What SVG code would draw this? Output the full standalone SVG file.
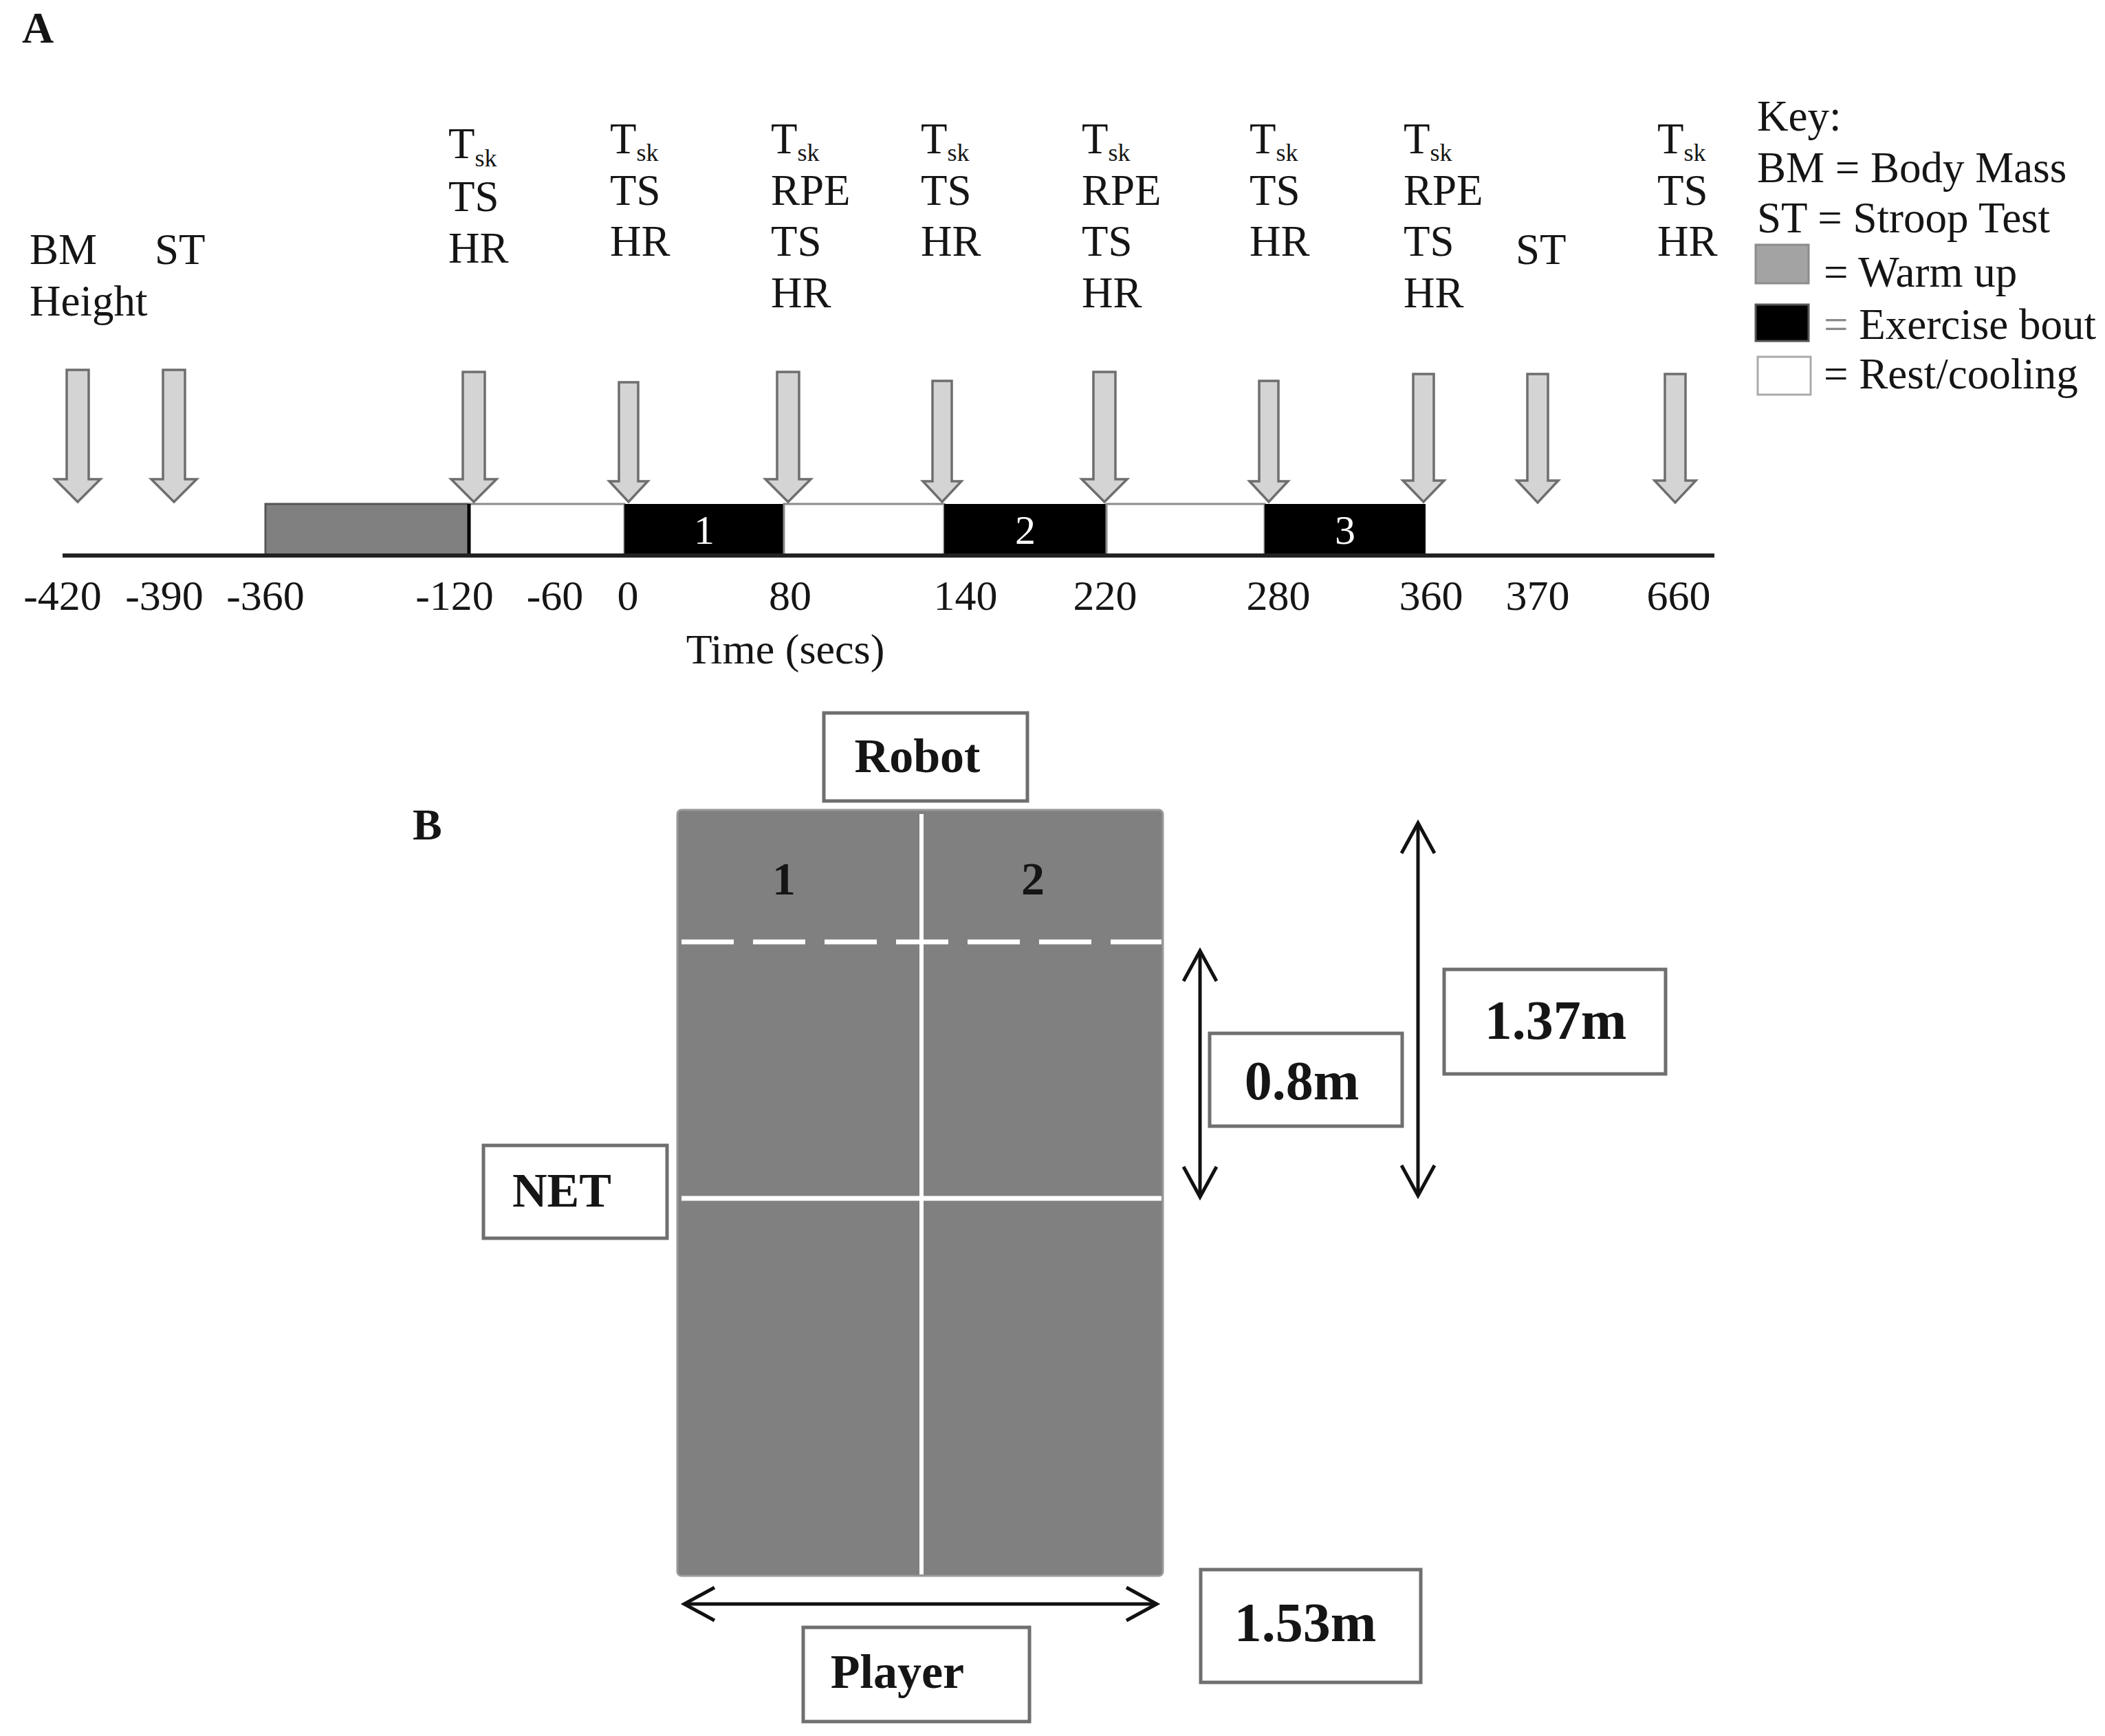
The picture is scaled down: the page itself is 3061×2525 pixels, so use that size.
<svg xmlns="http://www.w3.org/2000/svg" width="3061" height="2525" viewBox="0 0 3061 2525">
<style>
text{font-family:"Liberation Serif","Times New Roman",serif;fill:#151515}
.t{font-size:63px}
.ax{font-size:62px;text-anchor:middle}
.sub{font-size:36px}
.bold{font-weight:bold}
.hd{font-size:64px;font-weight:bold}
.lb{font-size:70px;font-weight:bold;text-anchor:middle}
.dim{font-size:80px;font-weight:bold;text-anchor:middle}
.arr{fill:#d4d4d4;stroke:#6e6e6e;stroke-width:3.5;stroke-linejoin:miter}
.box{fill:#fff;stroke:#6f6f6f;stroke-width:5}
.dl{stroke:#111;stroke-width:5;fill:none;marker-start:url(#v);marker-end:url(#v)}
.wl{stroke:#fff;stroke-width:7;fill:none}
</style>
<defs>
<marker id="v" viewBox="-50 -30 60 60" refX="0" refY="0" markerWidth="60" markerHeight="60" markerUnits="userSpaceOnUse" orient="auto-start-reverse">
<path d="M-44,-24 L0,0 L-44,24" fill="none" stroke="#111" stroke-width="5"/>
</marker>
</defs>
<rect width="3061" height="2525" fill="#fff"/>

<!-- Panel A -->
<g id="panelA">
<text x="32" y="62" class="hd">A</text>

<g id="timeline-bar">
<rect x="386" y="733" width="296" height="75" fill="#808080" stroke="#555" stroke-width="3"/>
<rect x="682" y="733" width="226" height="75" fill="#fff" stroke="#8a8a8a" stroke-width="3"/>
<rect x="908" y="733" width="232" height="75" fill="#000"/>
<rect x="1140" y="733" width="233" height="75" fill="#fff" stroke="#8a8a8a" stroke-width="3"/>
<rect x="1373" y="733" width="236" height="75" fill="#000"/>
<rect x="1609" y="733" width="230" height="75" fill="#fff" stroke="#8a8a8a" stroke-width="3"/>
<rect x="1839" y="733" width="234" height="75" fill="#000"/>
<line x1="682" y1="733" x2="682" y2="808" stroke="#000" stroke-width="5"/>
<line x1="91" y1="808" x2="2493" y2="808" stroke="#222" stroke-width="6"/>
<text x="1024" y="791" style="font-size:60px;fill:#fff;text-anchor:middle">1</text>
<text x="1491" y="791" style="font-size:60px;fill:#fff;text-anchor:middle">2</text>
<text x="1956" y="791" style="font-size:60px;fill:#fff;text-anchor:middle">3</text>
</g>

<g id="arrows">
<path class="arr" d="M97,538 H129 V697 H146 L113,730 L80,697 H97 Z"/>
<path class="arr" d="M237,538 H269 V697 H286 L253,730 L220,697 H237 Z"/>
<path class="arr" d="M673,541 H705 V697 H722 L689,730 L656,697 H673 Z"/>
<path class="arr" d="M900,556 H928 V700 H942 L914,730 L886,700 H900 Z"/>
<path class="arr" d="M1130,541 H1162 V697 H1179 L1146,730 L1113,697 H1130 Z"/>
<path class="arr" d="M1356,554 H1384 V700 H1398 L1370,730 L1342,700 H1356 Z"/>
<path class="arr" d="M1590,541 H1622 V697 H1639 L1606,730 L1573,697 H1590 Z"/>
<path class="arr" d="M1831,554 H1859 V700 H1873 L1845,730 L1817,700 H1831 Z"/>
<path class="arr" d="M2055,544 H2085 V699 H2100 L2070,730 L2040,699 H2055 Z"/>
<path class="arr" d="M2221,544 H2251 V699 H2266 L2236,731 L2206,699 H2221 Z"/>
<path class="arr" d="M2421,544 H2451 V699 H2466 L2436,731 L2406,699 H2421 Z"/>
</g>

<g id="labels-top">
<text x="43" y="384" class="t">BM</text>
<text x="43" y="459" class="t">Height</text>
<text x="225" y="384" class="t">ST</text>

<text x="652" y="230" class="t">T<tspan class="sub" dy="12">sk</tspan></text>
<text x="652" y="307" class="t">TS</text>
<text x="652" y="382" class="t">HR</text>

<text x="887" y="223" class="t">T<tspan class="sub" dy="11">sk</tspan></text>
<text x="887" y="298" class="t">TS</text>
<text x="887" y="372" class="t">HR</text>

<text x="1121" y="223" class="t">T<tspan class="sub" dy="11">sk</tspan></text>
<text x="1121" y="298" class="t">RPE</text>
<text x="1121" y="372" class="t">TS</text>
<text x="1121" y="447" class="t">HR</text>

<text x="1339" y="223" class="t">T<tspan class="sub" dy="11">sk</tspan></text>
<text x="1339" y="298" class="t">TS</text>
<text x="1339" y="372" class="t">HR</text>

<text x="1573" y="223" class="t">T<tspan class="sub" dy="11">sk</tspan></text>
<text x="1573" y="298" class="t">RPE</text>
<text x="1573" y="372" class="t">TS</text>
<text x="1573" y="447" class="t">HR</text>

<text x="1817" y="223" class="t">T<tspan class="sub" dy="11">sk</tspan></text>
<text x="1817" y="298" class="t">TS</text>
<text x="1817" y="372" class="t">HR</text>

<text x="2041" y="223" class="t">T<tspan class="sub" dy="11">sk</tspan></text>
<text x="2041" y="298" class="t">RPE</text>
<text x="2041" y="372" class="t">TS</text>
<text x="2041" y="447" class="t">HR</text>

<text x="2204" y="384" class="t">ST</text>

<text x="2410" y="223" class="t">T<tspan class="sub" dy="11">sk</tspan></text>
<text x="2410" y="298" class="t">TS</text>
<text x="2410" y="372" class="t">HR</text>
</g>

<g id="axis-labels">
<text x="91" y="887" class="ax">-420</text>
<text x="239" y="887" class="ax">-390</text>
<text x="386" y="887" class="ax">-360</text>
<text x="661" y="887" class="ax">-120</text>
<text x="807" y="887" class="ax">-60</text>
<text x="913" y="887" class="ax">0</text>
<text x="1149" y="887" class="ax">80</text>
<text x="1404" y="887" class="ax">140</text>
<text x="1607" y="887" class="ax">220</text>
<text x="1859" y="887" class="ax">280</text>
<text x="2081" y="887" class="ax">360</text>
<text x="2236" y="887" class="ax">370</text>
<text x="2441" y="887" class="ax">660</text>
<text x="1142" y="965" class="ax">Time (secs)</text>
</g>

<g id="key">
<text x="2555" y="190" class="t">Key:</text>
<text x="2555" y="265" class="t">BM = Body Mass</text>
<text x="2555" y="338" class="t">ST = Stroop Test</text>
<rect x="2553" y="356" width="77" height="56" fill="#a3a3a3" stroke="#8c8c8c" stroke-width="3"/>
<text x="2652" y="417" class="t">= Warm up</text>
<rect x="2553" y="443" width="77" height="53" fill="#000" stroke="#555" stroke-width="3"/>
<text x="2652" y="493" class="t"><tspan style="fill:#8a8a8a">=</tspan> Exercise bout</text>
<rect x="2556" y="519" width="77" height="55" fill="#fff" stroke="#aaa" stroke-width="3"/>
<text x="2652" y="565" class="t">= Rest/cooling</text>
</g>
</g>

<!-- Panel B -->
<g id="panelB">
<text x="600" y="1221" class="hd">B</text>

<g id="table">
<rect x="985" y="1178" width="706" height="1114" rx="6" fill="#808080" stroke="#999" stroke-width="3"/>
<line class="wl" x1="1340" y1="1184" x2="1340" y2="2290" style="stroke-width:6"/>
<line class="wl" x1="991" y1="1370" x2="1689" y2="1370" stroke-dasharray="76 28"/>
<line class="wl" x1="991" y1="1743" x2="1689" y2="1743"/>
<text x="1140" y="1301" class="lb" style="font-size:68px">1</text>
<text x="1502" y="1301" class="lb" style="font-size:68px">2</text>
</g>

<g id="robot">
<rect class="box" x="1198" y="1037" width="296" height="128"/>
<text x="1334" y="1123" class="lb">Robot</text>
</g>

<g id="net">
<rect class="box" x="703" y="1666" width="267" height="135"/>
<text x="817" y="1755" class="lb">NET</text>
</g>

<g id="player">
<rect class="box" x="1168" y="2367" width="329" height="137"/>
<text x="1305" y="2455" class="lb">Player</text>
</g>

<g id="box-08">
<rect class="box" x="1759" y="1503" width="280" height="135"/>
<text x="1893" y="1599" class="dim">0.8m</text>
</g>

<g id="box-137">
<rect class="box" x="2100" y="1410" width="322" height="152"/>
<text x="2262" y="1511" class="dim">1.37m</text>
</g>

<g id="box-153">
<rect class="box" x="1746" y="2283" width="320" height="164"/>
<text x="1898" y="2387" class="dim">1.53m</text>
</g>

<g id="connectors">
<line class="dl" x1="1745" y1="1383" x2="1745" y2="1741"/>
<line class="dl" x1="2062" y1="1197" x2="2062" y2="1739"/>
<line class="dl" x1="995" y1="2333" x2="1682" y2="2333"/>
</g>
</g>
</svg>
